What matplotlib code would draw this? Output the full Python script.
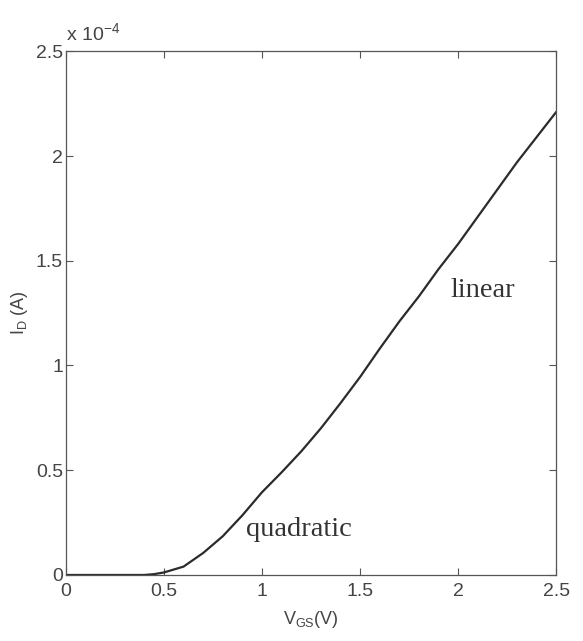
import numpy as np
import matplotlib.pyplot as plt

# V_GS (V) and I_D (x 1e-4 A)
vgs = [0.0, 0.1, 0.2, 0.3, 0.4, 0.45, 0.5, 0.6, 0.7, 0.8, 0.9, 1.0, 1.1, 1.2,
       1.3, 1.4, 1.5, 1.6, 1.7, 1.8, 1.9, 2.0, 2.1, 2.2, 2.3, 2.4, 2.5]
id_a = [0.0, 0.0, 0.0, 0.0, 0.0, 0.004, 0.012, 0.04, 0.105, 0.185, 0.285,
        0.395, 0.49, 0.59, 0.70, 0.82, 0.945, 1.08, 1.21, 1.33, 1.46, 1.58,
        1.71, 1.84, 1.97, 2.09, 2.21]

xticks = [0, 0.5, 1, 1.5, 2, 2.5]
xlabels = ['0', '0.5', '1', '1.5', '2', '2.5']
yticks = [0, 0.5, 1, 1.5, 2, 2.5]
ylabels = ['0', '0.5', '1', '1.5', '2', '2.5']

fig = plt.figure(figsize=(5.83, 6.41), dpi=100)
ax = fig.add_axes([0.113, 0.103, 0.841, 0.817])

ax.plot(vgs, id_a, color='#2b2b2b', lw=1.6)

ax.set_xlim(0, 2.5)
ax.set_ylim(0, 2.5)
ax.set_xticks(xticks)
ax.set_xticklabels(xlabels)
ax.set_yticks(yticks)
ax.set_yticklabels(ylabels)
ax.tick_params(direction='in', top=True, right=True, length=5, width=0.8,
               color='#555555', labelcolor='#444444', labelsize=14)
ax.tick_params(axis='x', pad=6)
ax.tick_params(axis='y', pad=2)
for s in ax.spines.values():
    s.set_color('#555555')
    s.set_linewidth(0.9)
for lab in ax.get_xticklabels() + ax.get_yticklabels():
    lab.set_family('Liberation Sans')

ax.set_xlabel('V$_{\\mathregular{GS}}$(V)', fontsize=13, color='#444444',
              family='Liberation Sans', labelpad=6)
ax.set_ylabel('I$_{\\mathregular{D}}$ (A)', fontsize=13, color='#444444',
              family='Liberation Sans', labelpad=4)

ax.text(0.0, 1.012, 'x 10$^{\\mathregular{-4}}$', transform=ax.transAxes,
        fontsize=14, color='#444444', family='Liberation Sans', va='bottom')

ax.text(0.92, 0.215, 'quadratic', fontsize=20.5, color='#333333',
        family='Liberation Serif', va='center')
ax.text(1.96, 1.36, 'linear', fontsize=20.5, color='#333333',
        family='Liberation Serif', va='center')

fig.savefig('out.png', dpi=100)
